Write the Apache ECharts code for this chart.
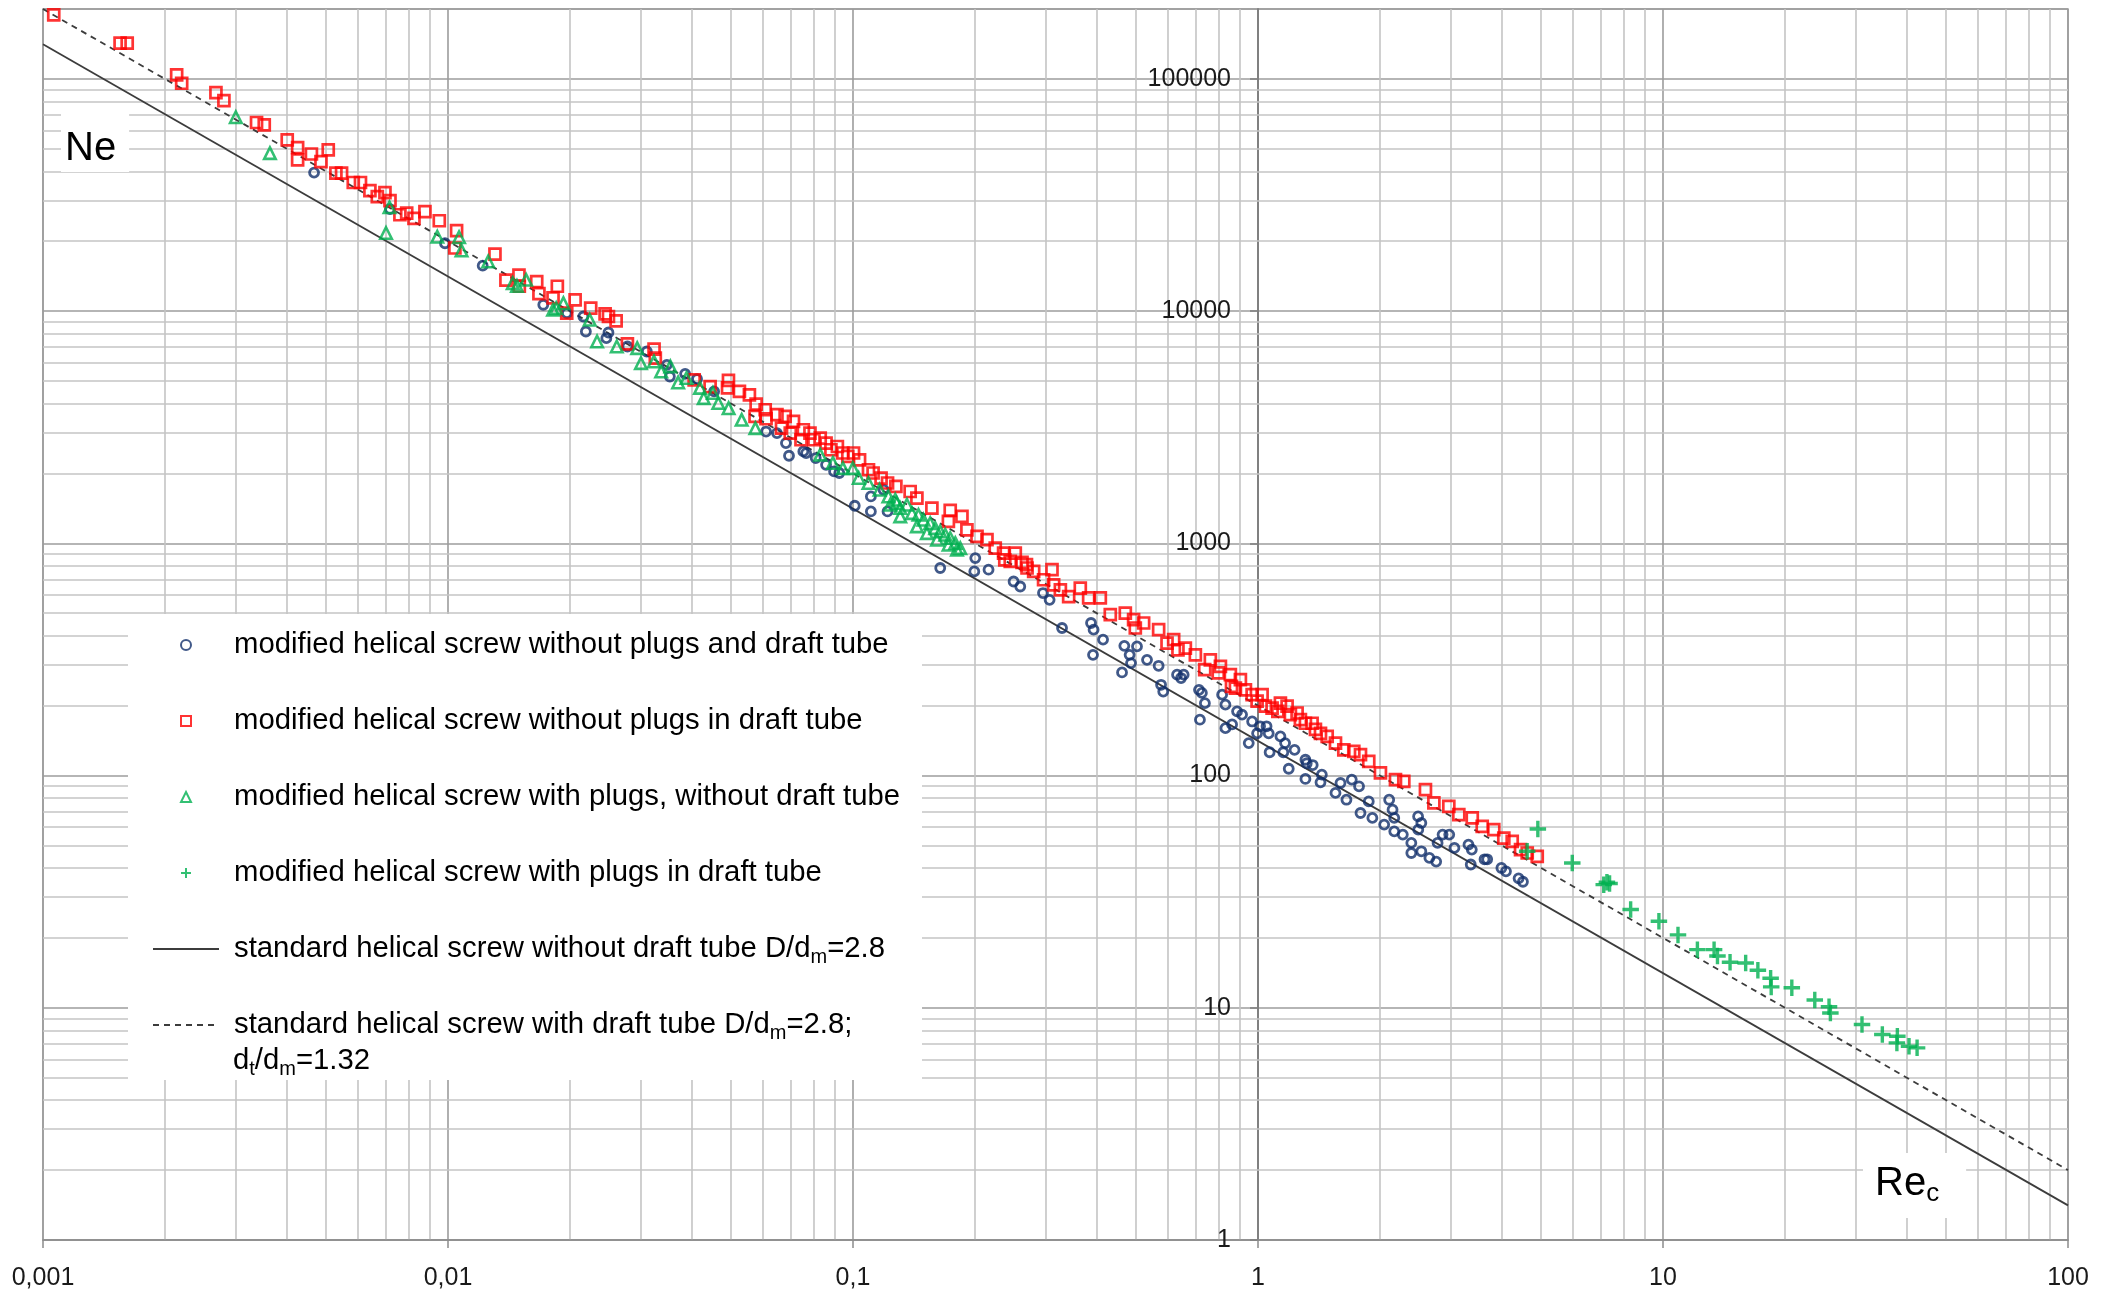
<!DOCTYPE html>
<html><head><meta charset="utf-8">
<script src="https://cdn.jsdelivr.net/npm/echarts@6/dist/echarts.min.js"></script>
<style>html,body{margin:0;padding:0;background:#fff}#c{width:2116px;height:1296px}</style>
</head><body><div id="c"></div>
<script>
// ---------- tick labels ----------
const xTickLabels = ['0,001', '0,01', '0,1', '1', '10', '100'];
const yTickLabels = ['1', '10', '100', '1000', '10000', '100000'];

// ---------- series names ----------
const seriesNames = [
  'modified helical screw without plugs and draft tube',
  'modified helical screw without plugs in draft tube',
  'modified helical screw with plugs, without draft tube',
  'modified helical screw with plugs in draft tube',
  'standard helical screw without draft tube D/dm=2.8',
  'standard helical screw with draft tube D/dm=2.8; dt/dm=1.32'
];
const legendTexts = [
  'modified helical screw without plugs and draft tube',
  'modified helical screw without plugs in draft tube',
  'modified helical screw with plugs, without draft tube',
  'modified helical screw with plugs in draft tube',
  'standard helical screw without draft tube D/d{sub|m}=2.8',
  'standard helical screw with draft tube D/d{sub|m}=2.8;'
];
const legendContinuation = 'd{sub|t}/d{sub|m}=1.32';

// ---------- data: modified helical screw without plugs and draft tube (circles) ----------
const blueRe = [0.00467,0.00719,0.00983,0.01218,0.01719,0.01966,
  0.02159,0.0219,0.0249,0.0246,0.02773,0.03097,0.0347,0.0353,0.0385,0.0412,0.0454,0.061,0.0649,0.0683,0.0695,0.0754,0.0809,0.0858,0.0898,0.101,0.1107,0.1217,0.119,0.1107,
  0.0766,0.0925,
  0.1642,0.2004,0.1993,0.2161,0.2492,0.2588,0.2945,0.3058,0.3282,0.387,0.3927,0.4144,0.3914,0.4677,0.5026,0.482,0.4858,0.4616,0.5321,0.5684,0.6312,0.6553,
  0.5763,0.5835,0.6457,0.715,0.7268,0.7394,0.7188,
  0.8154,0.831,0.831,0.863,0.8878,0.9133,0.9672,0.9487,0.9949,1.0118,1.0498,1.0628,1.0684,1.1359,1.1547,1.1665,1.231,1.191,1.3094,1.3192,1.3647,1.3094,1.4375,1.4266,1.5536,1.5985,1.6533,1.7042,1.7762,1.791,1.877,1.916,2.049,2.108,2.149,2.17,2.17,2.278,2.391,2.485,2.531,2.531,2.776,2.856,2.966,3.055,3.309,3.372,2.65,2.391,
  2.754,2.487,3.352,3.625,3.68,3.99,4.095,4.4,4.51];
const blueNe = [39500,27500,19600,15700,10650,9800,
  9480,8170,8090,7650,7040,6700,5870,5230,5370,5100,4510,3030,2985,2703,2383,2489,2330,2180,2040,1452,1372,1372,1702,1592,
  2448,2009,
  783,864,757,770,685,652,611,571,432,454,425,385,331,362,360,331,305,278,315,297,272,272,
  246,230,263,234,227,205,174,
  223,202,160,166,189,183,171,138,152,163,163,152,126,147.5,126,138,129,107,117,113,111,96.7,100.9,93.5,84.2,92.9,78.7,96,89.9,69,77.4,65.7,61.5,78.7,71.3,65.7,57.5,55.7,51.3,66.7,62.5,47.2,51.3,55.7,55.7,48.8,50.4,48,44.2,46.4,
  42.6,58.5,41.4,43.6,43.6,40,38.7,36.1,34.9];

// ---------- data: modified helical screw without plugs in draft tube (squares) ----------
const redRe = [0.001063,0.00155,0.001614,0.002138,0.0022,0.002673,0.002797,0.003367,0.003518,0.004009,0.004253,0.004253,0.0046,0.004857,0.005062,0.005287,0.00546,0.005836,0.00608,0.006415,0.00669,0.006988,0.007191,0.007608,0.007907,0.008241,0.008772,0.009517,0.0105,0.0104,0.01306,0.0139,0.01497,0.015,0.01656,0.01677,0.01862,0.01817,
  0.01964,0.0206,0.02251,0.02443,0.0249,0.02601,0.02773,0.03227,0.0325,0.04053,0.04438,0.04926,0.049,0.05243,0.05549,0.05765,0.0573,0.0607,0.061,0.0649,0.068,0.0666,0.0713,0.07,0.0754,0.0744,0.0783,0.0801,0.083,0.0858,0.0882,0.0915,0.0944,0.0971,0.1003,0.1038,0.1092,0.1121,0.1173,0.1217,0.1276,
  0.1384,0.1438,0.1566,0.1738,0.172,0.1858,0.1911,0.2024,0.2142,0.2245,0.2354,0.2516,0.2445,0.2614,0.269,0.2793,0.2955,0.31,0.3129,0.3251,0.3408,0.3641,0.3818,0.408,0.4318,0.4703,0.493,0.5219,0.4978,0.5684,0.5962,0.6191,0.6616,0.7004,0.7627,0.8076,0.8546,
  0.6344,0.7386,0.7976,0.8601,0.237,0.2681,
  0.9048,0.8795,0.931,0.9672,1.0236,0.9949,1.043,1.0834,1.1359,1.1195,1.18,1.2023,1.249,1.2726,1.3094,1.3601,1.3861,1.4266,1.4819,1.5536,1.6289,1.724,1.791,1.877,2.006,2.185,2.291,2.591,2.718,2.959,3.132,3.381,3.578,3.821,4.045,4.243,4.449,4.621,4.892];
const redNe = [188500,142500,142500,104000,95800,87300,80700,64900,63400,54600,50600,44800,47500,44000,49500,39300,39300,35800,35800,33000,31100,32400,29900,26000,26400,25100,26800,24500,22200,18700,17600,13600,14300,12800,13400,11900,12800,11400,
  9800,11190,10300,9730,9480,9080,7230,6860,6280,5060,4730,5030,4670,4510,4360,3980,3520,3760,3440,3580,3520,3135,3350,2985,3085,2793,2985,2793,2840,2703,2530,2613,2449,2367,2449,2290,2075,2009,1911,1819,1758,
  1672,1566,1419,1386,1243,1306,1144,1071,1037,954,908,908,836,828,783,757,697,770,663,631,590,642,582,582,493,501,469,454,432,425,372,385,354,331,315,295,272,
  348,286,277,242,849,809,
  259,238,234,223,223,209,199,195,205,189,199,183,186,174,168,168,158,152,147.5,138,129,127,123,115,102.6,96,94.4,86.9,76.2,73.7,67.9,65.7,60.4,58.5,53.8,52.1,48,46.4,44.9];

// ---------- data: modified helical screw with plugs, without draft tube (triangles) ----------
const triRe = [0.002993,0.003633,0.00717,0.00703,0.00941,0.01065,0.0108,0.01257,0.01445,0.0148,0.01559,0.01817,0.0185,
  0.01927,0.02238,0.02334,0.02611,0.02932,0.02995,0.03226,0.0336,0.0354,0.037,0.0388,0.0419,0.0428,0.0451,0.0465,0.0493,0.0531,0.0574,0.083,0.0892,0.0944,0.0999,0.1033,0.1092,0.1163,0.1223,0.1282,
  0.1272,0.1308,0.1359,0.1398,0.1451,0.1493,0.1551,0.1596,0.1642,0.169,0.1738,0.1789,0.184,0.1438,0.1522,0.1612,0.1722,0.1308,0.1236,0.1806];
const triNe = [68400,47900,28000,21700,20900,20800,18240,16360,13200,12850,13640,10130,10300,
  10820,9180,7400,7040,6930,5970,6070,5495,5780,4930,5150,4670,4220,4440,4020,3820,3404,3135,2410,2218,2108,2108,1911,1819,1702,1592,1492,
  1541,1419,1466,1350,1327,1264,1222,1163,1125,1089,1054,1003,954,1183,1107,1037,986,1306,1466,939];

// ---------- data: modified helical screw with plugs in draft tube (pluses) ----------
const plusRe = [4.62,4.909,5.97,7.14,7.27,7.38,8.32,9.77,10.89,12.16,13.37,13.63,14.64,16.0,17.15,18.44,18.5,20.8,23.7,25.7,25.9,31.0,34.8,37.9,37.8,40.5,42.4];
const plusNe = [47.2,58.9,42.0,33.9,34.7,34.3,26.5,23.6,20.6,17.8,17.8,16.7,15.7,15.6,14.5,13.4,12.3,12.2,10.8,10.1,9.5,8.47,7.67,7.54,7.06,6.83,6.72];

// ---------- reference correlations (end points) ----------
const stdNoTubeRe = [0.001, 100];
const stdNoTubeNe = [141000, 1.41];
const stdTubeRe = [0.001, 100];
const stdTubeNe = [200000, 2];

// ---------- minor grid values of the Ne axis (2..9 x decade) ----------
const yMinorMultipliers = [2, 3, 4, 5, 6, 7, 8, 9];
const yMinorDecades = [1, 10, 100, 1000, 10000];
const yMinorValues = [];
yMinorDecades.forEach(d => yMinorMultipliers.forEach(m => yMinorValues.push(m * d)));

const pairs = (xs, ys) => xs.map((x, i) => [x, ys[i]]);

const FONT = 'Liberation Sans, Arial, sans-serif';
const BLUE = '#12306b', RED = '#ff0000', GREEN = '#00b050', LINE = '#3c3c3c';
const MAJOR = '#9c9c9c', MINOR = '#c4c4c4';
const subStyle = { fontSize: 20, height: 22, verticalAlign: 'bottom', fontFamily: FONT, color: '#000' };
const SQUARE = 'path://M0,0L10,0L10,10L0,10Z';
const TRIANGLE = 'path://M5,0L10,10L0,10Z';
const PLUS = 'path://M0,5L10,5M5,0L5,10';
const NOFILL = 'rgba(0,0,0,0)';

const chart = echarts.init(document.getElementById('c'), null, { renderer: 'canvas' });
chart.setOption({
  animation: false,
  backgroundColor: '#fff',
  grid: { left: 43, right: 48, top: 9, bottom: 56, show: true, borderColor: MAJOR, borderWidth: 1.5 },
  title: [
    { text: 'Ne', left: 61, top: 113, padding: [16, 13, 3, 4], backgroundColor: '#fff', z: 11,
      textStyle: { fontSize: 40, fontWeight: 'normal', fontFamily: FONT, color: '#000', lineHeight: 40 } },
    { text: '{a|Re}{b|c}', left: 1863, top: 1150, padding: [11, 27, 11, 12], backgroundColor: '#fff', z: 11,
      textStyle: { fontFamily: FONT, color: '#000', fontWeight: 'normal',
        rich: { a: { fontSize: 40, lineHeight: 46, fontFamily: FONT, color: '#000' },
                b: { fontSize: 26, height: 26, lineHeight: 46, verticalAlign: 'bottom', fontFamily: FONT, color: '#000' } } } },
    { text: legendContinuation, left: 233, top: 1042, padding: 0, z: 12,
      textStyle: { fontSize: 29.3, fontWeight: 'normal', fontFamily: FONT, color: '#000', lineHeight: 38, rich: { sub: subStyle } } }
  ],
  legend: {
    orient: 'vertical', left: 128, top: 614, padding: [12, 22, 36, 24], z: 10,
    backgroundColor: '#fff', itemWidth: 66, itemHeight: 10, itemGap: 38,
    selectedMode: false, symbolKeepAspect: true,
    data: seriesNames,
    formatter: name => legendTexts[seriesNames.indexOf(name)],
    textStyle: { fontSize: 29.3, fontFamily: FONT, color: '#000', lineHeight: 38, padding: [0, 0, 0, 10], rich: { sub: subStyle } }
  },
  xAxis: {
    type: 'log', logBase: 10, min: 0.001, max: 100,
    axisLine: { show: true, lineStyle: { color: '#8c8c8c', width: 1.5 } },
    axisTick: { show: true, length: 8, lineStyle: { color: '#8c8c8c', width: 1.5 } },
    axisLabel: { fontSize: 25, fontFamily: FONT, color: '#1a1a1a', margin: 26,
      formatter: v => xTickLabels[Math.round(Math.log10(v)) + 3] ?? '' },
    splitLine: { show: true, lineStyle: { color: MAJOR, width: 1.6 } },
    minorTick: { show: false, splitNumber: 9 },
    minorSplitLine: { show: true, lineStyle: { color: MINOR, width: 1.6 } }
  },
  yAxis: {
    type: 'log', logBase: 10, min: 1, max: 200000, position: 'left', offset: -1215,
    axisLine: { show: true, lineStyle: { color: '#808080', width: 2 } },
    axisTick: { show: true, length: 8, lineStyle: { color: '#808080', width: 1.5 } },
    minorTick: { show: false },
    axisLabel: { fontSize: 25, fontFamily: FONT, color: '#1a1a1a', margin: 27, showMaxLabel: false,
      formatter: v => { const k = Math.log10(v); return Math.abs(k - Math.round(k)) < 1e-6 ? (yTickLabels[Math.round(k)] ?? '') : ''; } },
    splitLine: { show: true, lineStyle: { color: MAJOR, width: 1.6 } },
    minorSplitLine: { show: false }
  },
  series: [
    { name: seriesNames[0], type: 'scatter', data: pairs(blueRe, blueNe), symbol: 'circle', symbolSize: 9, z: 3, silent: true,
      itemStyle: { color: NOFILL, borderColor: BLUE, borderWidth: 2.8 } },
    { name: seriesNames[1], type: 'scatter', data: pairs(redRe, redNe), symbol: SQUARE, symbolSize: 11, z: 4, silent: true,
      itemStyle: { color: NOFILL, borderColor: RED, borderWidth: 2.7 } },
    { name: seriesNames[2], type: 'scatter', data: pairs(triRe, triNe), symbol: TRIANGLE, symbolSize: 11.5, z: 5, silent: true,
      itemStyle: { color: NOFILL, borderColor: GREEN, borderWidth: 2.6 } },
    { name: seriesNames[3], type: 'scatter', data: pairs(plusRe, plusNe), symbol: PLUS, symbolSize: 16.5, z: 6, silent: true,
      itemStyle: { color: NOFILL, borderColor: GREEN, borderWidth: 3.4 } },
    { name: seriesNames[4], type: 'line', data: pairs(stdNoTubeRe, stdNoTubeNe), symbol: 'none', z: 2, silent: true,
      itemStyle: { color: NOFILL, borderColor: NOFILL, borderWidth: 0 },
      lineStyle: { color: LINE, width: 1.8 } },
    { name: seriesNames[5], type: 'line', data: pairs(stdTubeRe, stdTubeNe), symbol: 'none', z: 2, silent: true,
      itemStyle: { color: NOFILL, borderColor: NOFILL, borderWidth: 0 },
      lineStyle: { color: LINE, width: 1.8, type: [6, 5] } },
    { name: 'minor-grid', type: 'line', data: [], z: 1, silent: true,
      markLine: { silent: true, z: 1, symbol: 'none', label: { show: false }, animation: false,
        lineStyle: { color: MINOR, width: 1.6, type: 'solid' },
        emphasis: { disabled: true },
        data: yMinorValues.map(v => ({ yAxis: v })) } }
  ]
});
</script></body></html>
